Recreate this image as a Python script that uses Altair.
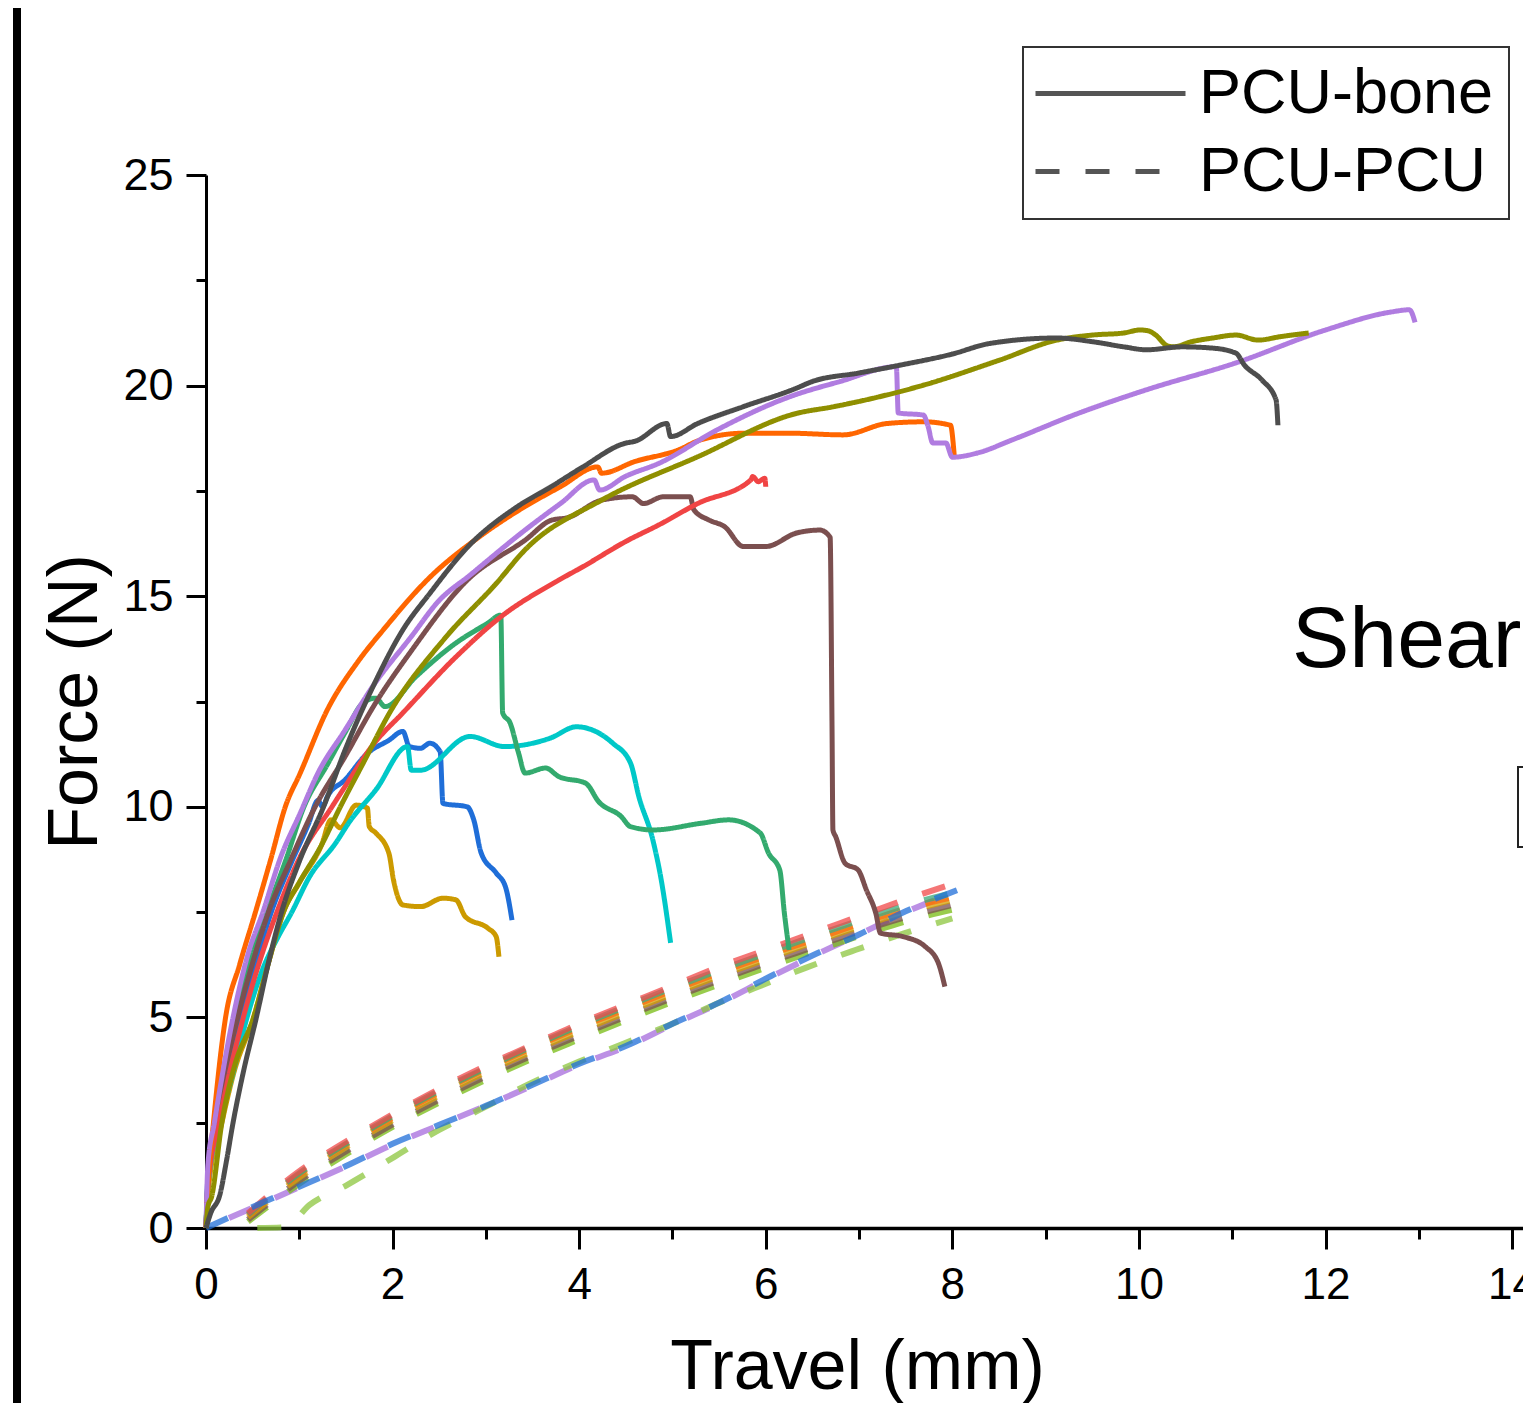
import altair as alt
import pandas as pd

FONT = "Liberation Sans"

# ---------------- PCU-bone (solid) series ----------------
gray_x = [0, 0.05, 0.15, 0.22, 0.29, 0.4, 0.54, 0.67, 0.81, 1.0, 1.26, 1.5, 1.8, 2.11, 2.4, 2.81, 3.34, 3.7, 4.04, 4.49, 4.6, 4.94, 4.98, 5.27, 5.76, 6.33, 6.49, 7.0, 7.45, 8.0, 8.4, 9.12, 9.51, 9.84, 10.08, 10.46, 10.79, 11.04, 11.13, 11.32, 11.47, 11.49]
gray_y = [0, 0.35, 0.8, 1.6, 2.5, 3.7, 5.0, 6.3, 7.5, 8.7, 10.0, 11.4, 12.9, 14.2, 15.07, 16.18, 17.13, 17.6, 18.07, 18.63, 18.68, 19.1, 18.79, 19.1, 19.5, 19.94, 20.09, 20.3, 20.49, 20.75, 21.0, 21.13, 21.04, 20.92, 20.85, 20.92, 20.89, 20.77, 20.49, 20.13, 19.66, 19.06]

olive_x = [0, 0.02, 0.06, 0.17, 0.3, 0.51, 0.67, 0.83, 1.0, 1.24, 1.44, 1.7, 1.96, 2.56, 3.11, 3.42, 4.24, 5.27, 6.33, 6.73, 7.69, 8.5, 9.12, 9.5, 9.84, 10.01, 10.1, 10.18, 10.3, 10.37, 10.56, 10.79, 11.04, 11.28, 11.51, 11.82]
olive_y = [0, 0.5, 0.74, 2.5, 3.8, 5.0, 6.3, 7.5, 8.2, 9.1, 10.0, 11.1, 12.2, 14.0, 15.3, 16.1, 17.28, 18.31, 19.34, 19.5, 20.01, 20.6, 21.08, 21.2, 21.25, 21.32, 21.3, 21.2, 20.95, 20.92, 21.04, 21.13, 21.2, 21.08, 21.16, 21.25]

purple_x = [0, 0.02, 0.09, 0.29, 0.45, 0.61, 0.8, 1.01, 1.2, 1.49, 1.8, 2.2, 2.5, 2.83, 3.42, 3.8, 4.16, 4.22, 4.5, 4.86, 5.48, 6.25, 6.8, 7.4, 7.42, 7.69, 7.74, 7.79, 7.93, 8.0, 8.27, 8.64, 9.36, 10.08, 11.04, 12.0, 12.71, 12.9, 12.96]
purple_y = [0, 1.5, 2.5, 5.0, 6.5, 7.5, 8.8, 9.85, 10.8, 11.82, 12.9, 14.04, 14.9, 15.5, 16.57, 17.2, 17.76, 17.52, 17.85, 18.16, 18.95, 19.73, 20.1, 20.45, 19.35, 19.3, 19.03, 18.64, 18.64, 18.3, 18.4, 18.71, 19.35, 19.9, 20.54, 21.32, 21.75, 21.8, 21.5]

orange_x = [0, 0.02, 0.08, 0.21, 0.36, 0.53, 0.7, 0.85, 1.01, 1.3, 1.63, 1.9, 2.4, 2.93, 3.42, 3.8, 4.2, 4.24, 4.6, 5.06, 5.3, 5.77, 6.25, 6.83, 7.3, 7.69, 7.98, 8.02]
orange_y = [0, 1.0, 2.5, 5.0, 6.25, 7.5, 8.8, 10.0, 10.8, 12.3, 13.45, 14.2, 15.45, 16.41, 17.13, 17.6, 18.07, 17.92, 18.2, 18.47, 18.71, 18.87, 18.87, 18.83, 19.1, 19.14, 19.06, 18.35]

red_x = [0, 0.02, 0.14, 0.4, 0.6, 0.76, 1.01, 1.35, 1.49, 1.8, 2.11, 2.68, 3.16, 3.78, 4.04, 4.5, 4.86, 5.27, 5.84, 5.86, 5.92, 5.99, 6.0]
red_y = [0, 1.0, 2.5, 5.0, 6.5, 7.5, 8.82, 10.0, 10.48, 11.5, 12.23, 13.56, 14.51, 15.38, 15.7, 16.3, 16.7, 17.2, 17.76, 17.84, 17.72, 17.8, 17.6]

brown_x = [0, 0.03, 0.1, 0.34, 0.5, 0.67, 0.9, 1.17, 1.49, 1.8, 2.2, 2.8, 3.42, 3.71, 3.87, 4.24, 4.57, 4.69, 4.9, 5.19, 5.23, 5.39, 5.56, 5.76, 6.0, 6.33, 6.58, 6.69, 6.71, 6.72, 6.75, 6.85, 6.99, 7.08, 7.18, 7.23, 7.47, 7.71, 7.85, 7.92]
brown_y = [0, 1.5, 2.5, 5.0, 6.3, 7.5, 8.7, 10.0, 11.19, 12.4, 13.7, 15.38, 16.33, 16.81, 16.86, 17.28, 17.36, 17.2, 17.36, 17.36, 17.05, 16.81, 16.65, 16.18, 16.18, 16.5, 16.57, 16.4, 12.0, 9.45, 9.29, 8.66, 8.5, 8.02, 7.47, 7.0, 6.92, 6.68, 6.29, 5.73]

green_x = [0, 0.03, 0.1, 0.31, 0.48, 0.65, 0.85, 1.05, 1.3, 1.5, 1.68, 1.82, 1.92, 2.25, 2.68, 3.02, 3.16, 3.18, 3.26, 3.35, 3.42, 3.64, 3.78, 4.07, 4.21, 4.45, 4.55, 4.79, 5.31, 5.6, 5.94, 6.03, 6.15, 6.2, 6.25]
green_y = [0, 1.5, 2.5, 5.0, 6.5, 7.5, 8.7, 10.0, 11.0, 11.8, 12.46, 12.58, 12.38, 13.09, 13.89, 14.36, 14.55, 12.23, 11.99, 11.28, 10.8, 10.92, 10.72, 10.56, 10.12, 9.77, 9.53, 9.45, 9.61, 9.69, 9.38, 8.9, 8.5, 7.47, 6.6]

cyan_x = [0, 0.02, 0.15, 0.28, 0.44, 0.6, 0.77, 0.92, 1.11, 1.39, 1.54, 1.82, 2.16, 2.2, 2.3, 2.83, 3.2, 3.69, 3.97, 4.36, 4.55, 4.64, 4.79, 4.88, 4.98]
cyan_y = [0, 1.0, 2.5, 3.6, 5.0, 6.1, 6.9, 7.5, 8.34, 9.14, 9.65, 10.4, 11.43, 10.87, 10.87, 11.67, 11.43, 11.63, 11.9, 11.51, 11.04, 10.24, 9.21, 8.26, 6.77]

blue_x = [0, 0.02, 0.12, 0.38, 0.56, 0.7, 0.9, 1.1, 1.2, 1.25, 1.3, 1.49, 1.73, 1.96, 2.11, 2.18, 2.3, 2.4, 2.51, 2.54, 2.8, 2.87, 2.95, 3.11, 3.21, 3.28]
blue_y = [0, 1.2, 2.5, 5.0, 6.5, 7.5, 8.6, 9.6, 10.15, 10.0, 10.24, 10.64, 11.27, 11.58, 11.79, 11.43, 11.39, 11.51, 11.31, 10.08, 10.0, 9.69, 8.9, 8.43, 8.1, 7.31]

gold_x = [0, 0.03, 0.17, 0.3, 0.51, 0.67, 0.83, 1.0, 1.24, 1.34, 1.44, 1.61, 1.73, 1.75, 1.82, 1.96, 2.01, 2.11, 2.3, 2.54, 2.68, 2.78, 3.02, 3.11, 3.14]
gold_y = [0, 1.0, 2.5, 3.7, 5.0, 6.3, 7.5, 8.2, 9.1, 9.69, 9.5, 10.04, 9.97, 9.53, 9.38, 8.9, 8.26, 7.67, 7.63, 7.83, 7.79, 7.39, 7.12, 6.92, 6.44]

# ---------------- PCU-PCU (dashed) series ----------------
dash_x = [0.45, 1.0, 1.5, 2.0, 2.5, 3.0, 3.5, 4.0, 4.5, 5.0, 5.5, 6.0, 6.5, 7.0, 7.5, 8.05]
red_d = [0.35, 1.35, 2.05, 2.7, 3.3, 3.85, 4.35, 4.85, 5.3, 5.75, 6.2, 6.6, 7.0, 7.4, 7.8, 8.2]
green_d = [0.32, 1.3, 2.0, 2.66, 3.26, 3.8, 4.32, 4.8, 5.26, 5.7, 6.12, 6.52, 6.92, 7.3, 7.66, 7.98]
orange_d = [0.3, 1.27, 1.98, 2.62, 3.22, 3.78, 4.28, 4.76, 5.2, 5.64, 6.06, 6.46, 6.84, 7.22, 7.58, 7.88]
gold_d = [0.26, 1.2, 1.92, 2.56, 3.15, 3.7, 4.2, 4.67, 5.12, 5.56, 5.98, 6.38, 6.78, 7.15, 7.5, 7.82]
brown_d = [0.2, 1.12, 1.82, 2.46, 3.05, 3.6, 4.1, 4.57, 5.02, 5.46, 5.88, 6.28, 6.66, 7.04, 7.38, 7.7]
lime_d = [0.15, 1.05, 1.75, 2.4, 2.98, 3.52, 4.02, 4.48, 4.93, 5.37, 5.78, 6.18, 6.56, 6.93, 7.28, 7.58]

low_x = [0, 0.5, 1.0, 1.5, 2.0, 2.5, 3.0, 3.5, 4.0, 4.5, 5.0, 5.5, 6.0, 6.5, 7.0, 7.5, 8.05]
blue_d = [0.0, 0.5, 0.98, 1.47, 2.0, 2.45, 2.9, 3.4, 3.9, 4.32, 4.85, 5.35, 5.92, 6.47, 6.97, 7.52, 8.02]
purple_d = [0.0, 0.48, 0.97, 1.46, 1.98, 2.44, 2.9, 3.38, 3.88, 4.3, 4.83, 5.33, 5.9, 6.45, 6.97, 7.5, 7.98]

yg_x = [0.55, 0.85, 1.11, 1.51, 2.02, 2.5, 3.0, 3.4, 4.0, 4.5, 5.0, 5.5, 6.0, 6.42, 6.96, 7.49, 8.0]
yg_y = [0.0, 0.02, 0.55, 1.02, 1.69, 2.33, 2.88, 3.35, 3.95, 4.4, 4.85, 5.35, 5.8, 6.17, 6.6, 7.0, 7.35]

groups = ["PCU-bone", "PCU-PCU"]
shear_label = ["Shear"]

bone = [
    ("b-gold", "#cc9a00", gold_x, gold_y),
    ("b-blue", "#1f6ed8", blue_x, blue_y),
    ("b-cyan", "#00c8c8", cyan_x, cyan_y),
    ("b-green", "#33aa6e", green_x, green_y),
    ("b-brown", "#7b4f4f", brown_x, brown_y),
    ("b-red", "#f04444", red_x, red_y),
    ("b-orange", "#ff6600", orange_x, orange_y),
    ("b-purple", "#b07ce0", purple_x, purple_y),
    ("b-olive", "#8f8f00", olive_x, olive_y),
    ("b-gray", "#4d4d4d", gray_x, gray_y),
]
pcu = [
    ("p-yg", "#8cc63e", yg_x, yg_y),
    ("p-lime", "#77bb11", dash_x, lime_d),
    ("p-brown", "#7b4f4f", dash_x, brown_d),
    ("p-gold", "#d4a000", dash_x, gold_d),
    ("p-orange", "#ff6a10", dash_x, orange_d),
    ("p-green", "#3aa878", dash_x, green_d),
    ("p-red", "#f04848", dash_x, red_d),
    ("p-purple", "#b07ce0", low_x, purple_d),
    ("p-blue", "#1f6ed8", low_x, blue_d),
]

rows = []
for grp, lst in (("PCU-PCU", pcu), ("PCU-bone", bone)):
    for name, col, xs, ys in lst:
        for i, (xv, yv) in enumerate(zip(xs, ys)):
            rows.append({"series": name, "group": grp, "x": xv, "y": yv, "i": i})
df = pd.DataFrame(rows)

names = [b[0] for b in pcu] + [b[0] for b in bone]
cols = [b[1] for b in pcu] + [b[1] for b in bone]

x_axis = alt.Axis(
    values=list(range(15)),
    labelExpr="datum.value % 2 === 0 ? datum.label : ''",
    tickSize={"condition": {"test": "datum.value % 2 === 0", "value": 21}, "value": 11},
    tickWidth=3, tickColor="black", domainWidth=3.5, domainColor="black",
    labelFontSize=44, labelFont=FONT, labelColor="black", labelPadding=14,
    labelFlush=False, labelOverlap=False, grid=False,
    titleFontSize=70, titleFont=FONT, titleFontWeight="normal", titleColor="black",
    titleX=651, titleY=160, titleBaseline="alphabetic", titleAlign="center",
)
y_axis = alt.Axis(
    values=[0, 2.5, 5, 7.5, 10, 12.5, 15, 17.5, 20, 22.5, 25],
    labelExpr="datum.value % 5 === 0 ? datum.label : ''",
    tickSize={"condition": {"test": "datum.value % 5 === 0", "value": 20}, "value": 10},
    tickWidth=3, tickColor="black", domainWidth=3, domainColor="black",
    labelFontSize=45, labelFont=FONT, labelColor="black", labelPadding=13,
    labelFlush=False, labelOverlap=False, grid=False,
    titleFontSize=70, titleFont=FONT, titleFontWeight="normal", titleColor="black",
    titleX=-110, titleY=526.5, titleAngle=270, titleBaseline="alphabetic", titleAlign="center",
)

legend = alt.Legend(
    title=None, orient="none", legendX=817, legendY=-128,
    labelFontSize=63, labelFont=FONT, labelColor="black", labelLimit=800, labelOffset=98,
    symbolType="M-1.36,0H4.64", symbolSize=2500, symbolStrokeWidth=5, symbolStrokeColor="#555555",
    symbolOpacity=1, padding=15, rowPadding=14, strokeColor="#333333",
)

x_enc = alt.X("x:Q", scale=alt.Scale(domain=[0, 14.117], nice=False, zero=False), axis=x_axis, title="Travel (mm)")
y_enc = alt.Y("y:Q", scale=alt.Scale(domain=[0, 25], nice=False), axis=y_axis, title="Force (N)")
c_enc = alt.Color("series:N", scale=alt.Scale(domain=names, range=cols), legend=None)
d_enc = alt.StrokeDash("group:N", scale=alt.Scale(domain=groups, range=[[1, 0], [24, 26]]), legend=legend)
o_enc = alt.Order("i:Q")

dashed = alt.Chart(df).transform_filter(
    "datum.group === 'PCU-PCU' && datum.series !== 'p-purple'"
).mark_line(strokeWidth=6, opacity=0.75, strokeCap="butt", interpolate="monotone").encode(
    x=x_enc, y=y_enc, color=c_enc, strokeDash=d_enc, order=o_enc
)

dashed_purple = alt.Chart(df).transform_filter("datum.series === 'p-purple'").mark_line(
    strokeWidth=6, opacity=0.85, strokeCap="butt", strokeDashOffset=25, interpolate="monotone"
).encode(x=x_enc, y=y_enc, color=c_enc, strokeDash=d_enc, order=o_enc)

solid = alt.Chart(df).transform_filter("datum.group === 'PCU-bone'").mark_line(
    strokeWidth=5, strokeJoin="round", interpolate="monotone"
).encode(x=x_enc, y=y_enc, color=c_enc, strokeDash=d_enc, order=o_enc)

one = pd.DataFrame({"t": shear_label})
shear = alt.Chart(one).mark_text(
    align="left", baseline="alphabetic", fontSize=86, font=FONT, color="black"
).encode(text="t:N", x=alt.value(1086), y=alt.value(492))

box = alt.Chart(one).mark_rect(fill="white", stroke="#222222", strokeWidth=2).encode(
    x=alt.value(1312), x2=alt.value(1420), y=alt.value(592), y2=alt.value(672)
)

border = alt.Chart(one).mark_rule(color="black", strokeWidth=8).encode(
    x=alt.value(-189), y=alt.value(-190), y2=alt.value(1260)
)

chart = alt.layer(dashed_purple, dashed, solid, shear, box, border).properties(
    width=1317, height=1053,
    padding={"left": 198, "top": 167, "right": 0, "bottom": 175},
    autosize=alt.AutoSizeParams(type="none"),
    background="white",
).configure_view(stroke=None).configure_legend(strokeWidth=2)

chart.save("out.html", embed_options={"renderer": "svg", "actions": False})
